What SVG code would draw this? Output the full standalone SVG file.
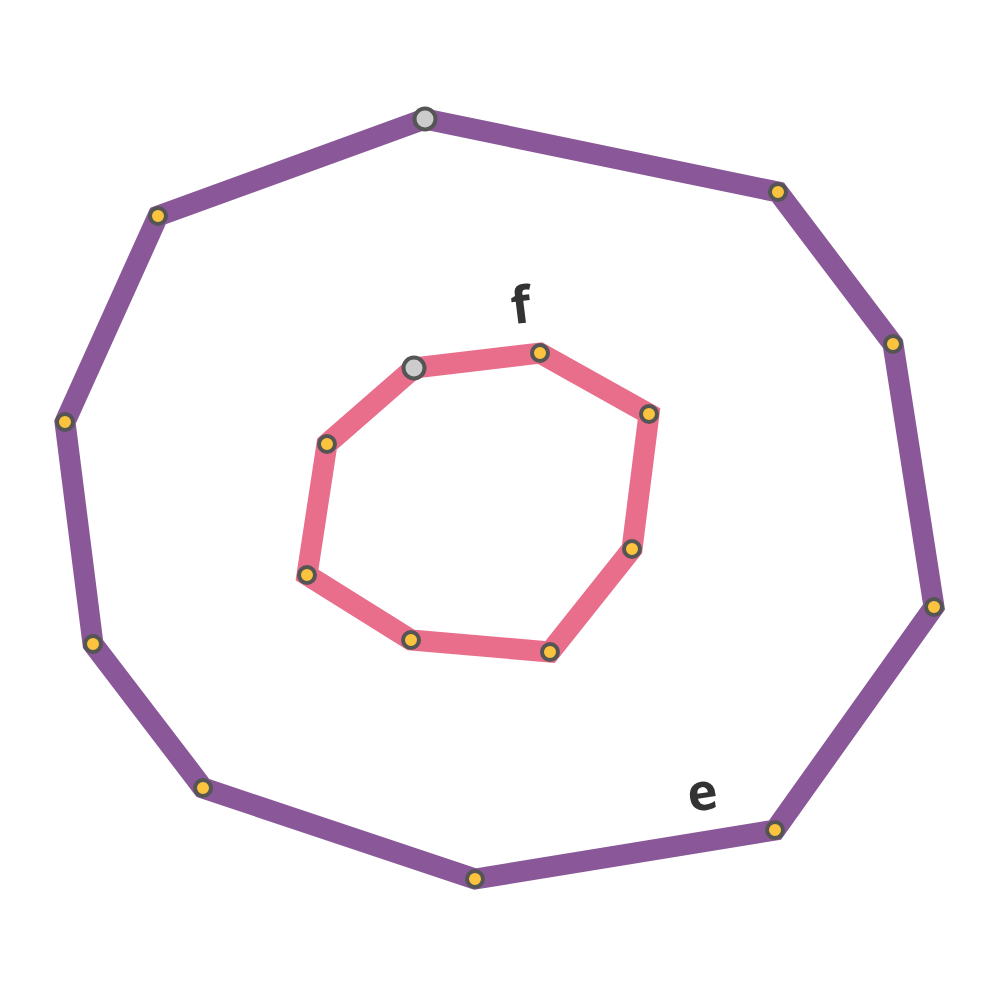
<svg xmlns="http://www.w3.org/2000/svg" width="1000" height="1000" viewBox="0 0 1000 1000">
<style>
.ring{fill:none;stroke-width:21;stroke-linejoin:miter}
.outer{stroke:#8a5898}
.inner{stroke:#e86e8b}
.v{fill:#fcc43e;stroke:#555;stroke-width:4}
.s{fill:#ccc;stroke:#555;stroke-width:4}
.lbl{font-family:"Open Sans","DejaVu Sans",sans-serif;font-weight:bold;font-size:51px;fill:#333;text-anchor:middle}
</style>
<rect width="1000" height="1000" fill="#fff"/>
<g id="connectors">
<polygon id="e-ring" class="ring outer" points="425,119 778,192 893,344 934,607 775,830 475,879 203,788 93,644 65,422 158,216"/>
<polygon id="f-ring" class="ring inner" points="414,368 540,353 649,414 632,549 550,652 411,640 307,575 327,444"/>
</g>
<g id="e-nodes">
<g id="e0"><circle class="s" cx="425" cy="119" r="10.5"/></g>
<g id="e1"><circle class="v" cx="778" cy="192" r="8"/></g>
<g id="e2"><circle class="v" cx="893" cy="344" r="8"/></g>
<g id="e3"><circle class="v" cx="934" cy="607" r="8"/></g>
<g id="e4"><circle class="v" cx="775" cy="830" r="8"/></g>
<g id="e5"><circle class="v" cx="475" cy="879" r="8"/></g>
<g id="e6"><circle class="v" cx="203" cy="788" r="8"/></g>
<g id="e7"><circle class="v" cx="93" cy="644" r="8"/></g>
<g id="e8"><circle class="v" cx="65" cy="422" r="8"/></g>
<g id="e9"><circle class="v" cx="158" cy="216" r="8"/></g>
</g>
<g id="f-nodes">
<g id="f0"><circle class="s" cx="414" cy="368" r="10.5"/></g>
<g id="f1"><circle class="v" cx="540" cy="353" r="8"/></g>
<g id="f2"><circle class="v" cx="649" cy="414" r="8"/></g>
<g id="f3"><circle class="v" cx="632" cy="549" r="8"/></g>
<g id="f4"><circle class="v" cx="550" cy="652" r="8"/></g>
<g id="f5"><circle class="v" cx="411" cy="640" r="8"/></g>
<g id="f6"><circle class="v" cx="307" cy="575" r="8"/></g>
<g id="f7"><circle class="v" cx="327" cy="444" r="8"/></g>
</g>
<g id="labels">
<text class="lbl" transform="translate(523,323) rotate(-7)">f</text>
<text class="lbl" transform="translate(705,810) rotate(-9)">e</text>
</g>
</svg>
